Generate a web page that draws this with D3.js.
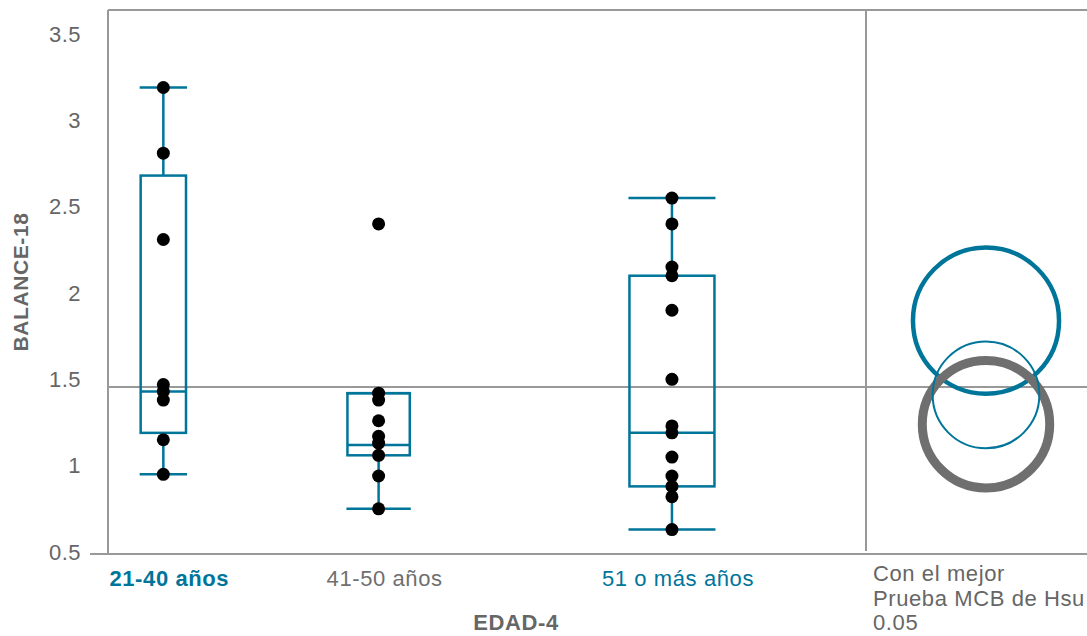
<!DOCTYPE html>
<html>
<head>
<meta charset="utf-8">
<script src="https://cdn.jsdelivr.net/npm/d3@7"></script>
<style>
  body { margin: 0; background: #fff; }
  svg { display: block; font-family: "Liberation Sans", Arial, sans-serif; }
</style>
</head>
<body>
<div id="chart"></div>
<script>
// data
const categories = ["21-40 años", "41-50 años", "51 o más años"];
const points2140 = [3.19, 2.81, 2.31, 1.47, 1.43, 1.38, 1.15, 0.95];
const points4150 = [2.40, 1.42, 1.38, 1.26, 1.17, 1.13, 1.06, 0.94, 0.75];
const points51 = [2.55, 2.40, 2.15, 2.10, 1.90, 1.50, 1.23, 1.19, 1.05, 0.94, 0.88, 0.82, 0.63];
const whiskerLo = [0.95, 0.75, 0.63];
const q1 = [1.19, 1.06, 0.88];
const median = [1.43, 1.12, 1.19];
const q3 = [2.68, 1.42, 2.10];
const whiskerHi = [3.19, 1.42, 2.55];
const counts = [8, 11, 15];
const circleMean = [1.84, 1.24, 1.41];
const circleRadius = [0.423, 0.369, 0.309];
const grandMean = 1.455;
const yTicks = [0.5, 1, 1.5, 2, 2.5, 3, 3.5];
const footText = ["Con el mejor", "Prueba MCB de Hsu", "0.05"];

window.onload = function() {
    const W = 1087, H = 636;
    const teal = "#00759a", grey = "#6f6f6f", lineGrey = "#999";
    const left = 108, sep = 866, top = 10, bottom = 554;

    const svg = d3.select("#chart").append("svg")
        .attr("width", W).attr("height", H);

    const y = d3.scaleLinear().domain([0.5, 3.5]).range([552, 34]);

    // group slots along the left panel (JMP-like unequal spacing)
    const x = d3.scaleOrdinal().domain(categories)
        .range([0.073, 0.357, 0.744].map(f => left + f * (sep - left)));
    const boxW = d3.scaleLinear().domain([0, 15]).range([0, 85]);

    const groups = categories.map((c, i) => ({
        cat: c,
        pts: [points2140, points4150, points51][i],
        lo: whiskerLo[i], q1: q1[i], med: median[i], q3: q3[i], hi: whiskerHi[i],
        n: counts[i]
    }));

    // frame
    svg.append("line").attr("x1", left).attr("x2", W).attr("y1", top).attr("y2", top)
        .attr("stroke", lineGrey).attr("stroke-width", 2);
    svg.append("line").attr("x1", left).attr("x2", left).attr("y1", top).attr("y2", bottom)
        .attr("stroke", lineGrey).attr("stroke-width", 2);
    svg.append("line").attr("x1", 90).attr("x2", W).attr("y1", bottom).attr("y2", bottom)
        .attr("stroke", lineGrey).attr("stroke-width", 2);
    svg.append("line").attr("x1", sep).attr("x2", sep).attr("y1", top).attr("y2", 551)
        .attr("stroke", lineGrey).attr("stroke-width", 2);

    // grand mean
    svg.append("line").attr("x1", left).attr("x2", W)
        .attr("y1", y(grandMean)).attr("y2", y(grandMean))
        .attr("stroke", lineGrey).attr("stroke-width", 2);

    // y axis
    const yAxis = svg.append("g")
        .attr("transform", `translate(${left},0)`)
        .call(d3.axisLeft(y).tickValues(yTicks).tickFormat(d => d).tickSize(0).tickPadding(27));
    yAxis.select(".domain").remove();
    yAxis.selectAll("text")
        .style("font-size", "22px").style("font-family", "Liberation Sans, Arial, sans-serif")
        .style("letter-spacing", "0.5px")
        .attr("fill", "#666");

    svg.append("text")
        .attr("transform", `translate(28,${(top + bottom) / 2}) rotate(-90)`)
        .attr("text-anchor", "middle")
        .style("font-size", "21px").style("font-weight", "bold")
        .style("letter-spacing", "0.6px")
        .attr("fill", "#666")
        .text("BALANCE-18");

    // boxes
    const box = svg.selectAll(".box").data(groups).enter().append("g").attr("class", "box")
        .attr("stroke", teal).attr("stroke-width", 2.5).attr("fill", "none");

    box.append("line")
        .attr("x1", d => x(d.cat)).attr("x2", d => x(d.cat))
        .attr("y1", d => y(d.hi)).attr("y2", d => y(d.q3));
    box.append("line")
        .attr("x1", d => x(d.cat)).attr("x2", d => x(d.cat))
        .attr("y1", d => y(d.q1)).attr("y2", d => y(d.lo));
    box.append("rect")
        .attr("x", d => x(d.cat) - boxW(d.n) / 2)
        .attr("width", d => boxW(d.n))
        .attr("y", d => y(d.q3))
        .attr("height", d => y(d.q1) - y(d.q3));
    box.append("line")
        .attr("x1", d => x(d.cat) - boxW(d.n) / 2).attr("x2", d => x(d.cat) + boxW(d.n) / 2)
        .attr("y1", d => y(d.med)).attr("y2", d => y(d.med));
    [d => d.hi, d => d.lo].forEach(f => {
        box.append("line")
            .attr("x1", d => x(d.cat) - boxW(d.n) / 2 - 1).attr("x2", d => x(d.cat) + boxW(d.n) / 2 + 1)
            .attr("y1", d => y(f(d))).attr("y2", d => y(f(d)));
    });

    // points
    groups.forEach(g => {
        svg.selectAll(null).data(g.pts).enter().append("circle")
            .attr("cx", x(g.cat)).attr("cy", d => y(d))
            .attr("r", 6.5).attr("fill", "#000");
    });

    // category labels
    const labelStyle = [
        { color: teal, weight: "bold" },
        { color: grey, weight: "normal" },
        { color: teal, weight: "normal" }
    ];
    svg.selectAll(".cat").data(categories).enter().append("text")
        .attr("class", "cat")
        .attr("x", d => x(d) + 6).attr("y", 586)
        .attr("text-anchor", "middle")
        .style("font-size", "22px")
        .style("letter-spacing", "0.6px")
        .style("font-weight", (d, i) => labelStyle[i].weight)
        .attr("fill", (d, i) => labelStyle[i].color)
        .text(d => d);

    svg.append("text")
        .attr("x", 516).attr("y", 630)
        .attr("text-anchor", "middle")
        .style("font-size", "22px").style("font-weight", "bold")
        .style("letter-spacing", "0.6px")
        .attr("fill", "#666")
        .text("EDAD-4");

    // comparison circles
    const cx = 986;
    const circleStyle = [
        { color: teal, width: 4.5 },
        { color: grey, width: 9 },
        { color: teal, width: 2 }
    ];
    svg.selectAll(".cmp").data(categories).enter().append("circle")
        .attr("class", "cmp")
        .attr("cx", cx)
        .attr("cy", (d, i) => y(circleMean[i]))
        .attr("r", (d, i) => y(0.5) - y(0.5 + circleRadius[i]))
        .attr("fill", "none")
        .attr("stroke", (d, i) => circleStyle[i].color)
        .attr("stroke-width", (d, i) => circleStyle[i].width);

    svg.selectAll(".foot").data(footText).enter().append("text")
        .attr("class", "foot")
        .attr("x", 873).attr("y", (d, i) => 581 + i * 24.5)
        .style("font-size", "22px")
        .style("letter-spacing", "0.6px")
        .attr("fill", "#666")
        .text(d => d);
};
</script>
</body>
</html>
